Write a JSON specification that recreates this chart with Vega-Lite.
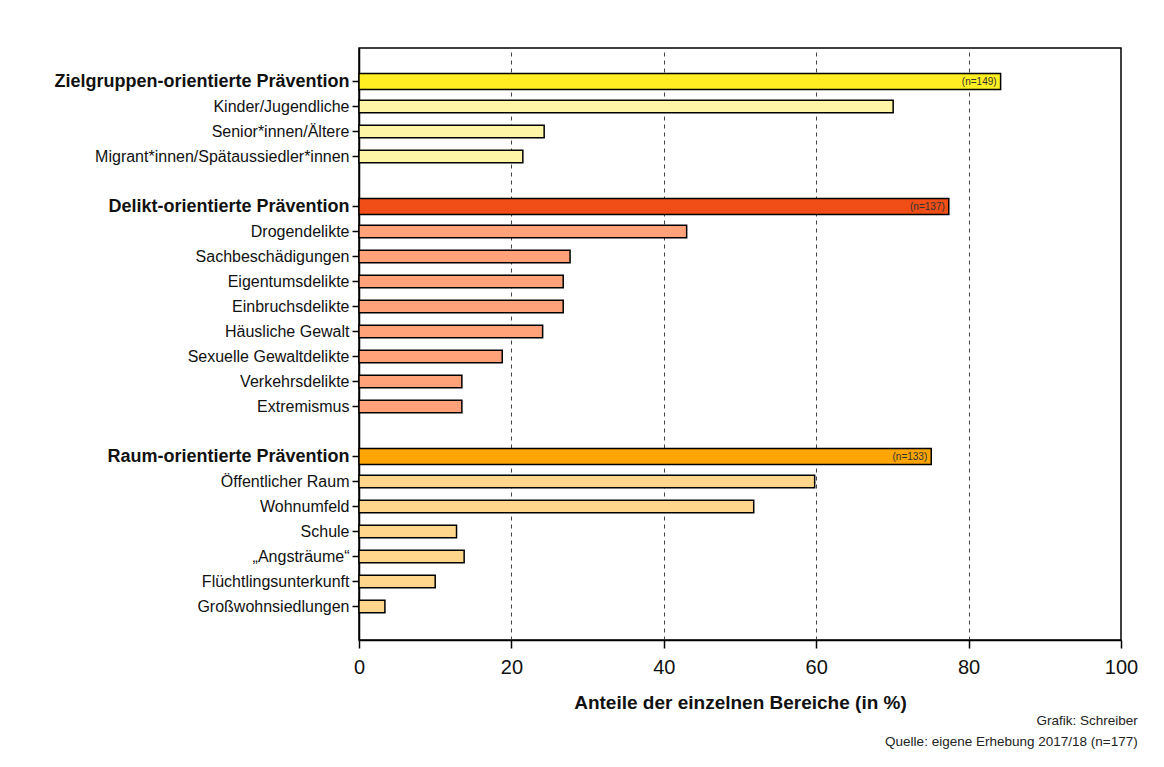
{
  "$schema": "https://vega.github.io/schema/vega-lite/v6.json",
  "width": 762,
  "height": 592,
  "autosize": {"type": "none"},
  "padding": {"left": 359, "top": 48, "right": 43, "bottom": 127},
  "background": "white",
  "config": {
    "view": {"stroke": "black", "strokeWidth": 1.5},
    "font": "Liberation Sans"
  },
  "title": {
    "text": ["Grafik: Schreiber", "Quelle: eigene Erhebung 2017/18 (n=177)"],
    "orient": "bottom",
    "anchor": "end",
    "align": "right",
    "fontSize": 13.5,
    "fontWeight": "normal",
    "color": "#222222",
    "lineHeight": 21,
    "offset": 2,
    "dx": 0
  },
  "data": {
    "values": [
      {"bereich": "Zielgruppen-orientierte Prävention", "anteil": 84.2, "typ": "Zielgruppen gesamt", "ebene": "gesamt", "nlabel": "(n=149)"},
      {"bereich": "Kinder/Jugendliche", "anteil": 70.1, "typ": "Zielgruppen einzeln", "ebene": "einzeln"},
      {"bereich": "Senior*innen/Ältere", "anteil": 24.3, "typ": "Zielgruppen einzeln", "ebene": "einzeln"},
      {"bereich": "Migrant*innen/Spätaussiedler*innen", "anteil": 21.5, "typ": "Zielgruppen einzeln", "ebene": "einzeln"},
      {"bereich": "Delikt-orientierte Prävention", "anteil": 77.4, "typ": "Delikt gesamt", "ebene": "gesamt", "nlabel": "(n=137)"},
      {"bereich": "Drogendelikte", "anteil": 43.0, "typ": "Delikt einzeln", "ebene": "einzeln"},
      {"bereich": "Sachbeschädigungen", "anteil": 27.7, "typ": "Delikt einzeln", "ebene": "einzeln"},
      {"bereich": "Eigentumsdelikte", "anteil": 26.8, "typ": "Delikt einzeln", "ebene": "einzeln"},
      {"bereich": "Einbruchsdelikte", "anteil": 26.8, "typ": "Delikt einzeln", "ebene": "einzeln"},
      {"bereich": "Häusliche Gewalt", "anteil": 24.1, "typ": "Delikt einzeln", "ebene": "einzeln"},
      {"bereich": "Sexuelle Gewaltdelikte", "anteil": 18.8, "typ": "Delikt einzeln", "ebene": "einzeln"},
      {"bereich": "Verkehrsdelikte", "anteil": 13.5, "typ": "Delikt einzeln", "ebene": "einzeln"},
      {"bereich": "Extremismus", "anteil": 13.5, "typ": "Delikt einzeln", "ebene": "einzeln"},
      {"bereich": "Raum-orientierte Prävention", "anteil": 75.1, "typ": "Raum gesamt", "ebene": "gesamt", "nlabel": "(n=133)"},
      {"bereich": "Öffentlicher Raum", "anteil": 59.8, "typ": "Raum einzeln", "ebene": "einzeln"},
      {"bereich": "Wohnumfeld", "anteil": 51.8, "typ": "Raum einzeln", "ebene": "einzeln"},
      {"bereich": "Schule", "anteil": 12.8, "typ": "Raum einzeln", "ebene": "einzeln"},
      {"bereich": "„Angsträume“", "anteil": 13.8, "typ": "Raum einzeln", "ebene": "einzeln"},
      {"bereich": "Flüchtlingsunterkunft", "anteil": 10.0, "typ": "Raum einzeln", "ebene": "einzeln"},
      {"bereich": "Großwohnsiedlungen", "anteil": 3.4, "typ": "Raum einzeln", "ebene": "einzeln"}
    ]
  },
  "encoding": {
    "y": {
      "field": "bereich",
      "type": "nominal",
      "scale": {
        "domain": [
          "Zielgruppen-orientierte Prävention", "Kinder/Jugendliche", "Senior*innen/Ältere", "Migrant*innen/Spätaussiedler*innen",
          " ",
          "Delikt-orientierte Prävention", "Drogendelikte", "Sachbeschädigungen", "Eigentumsdelikte", "Einbruchsdelikte", "Häusliche Gewalt", "Sexuelle Gewaltdelikte", "Verkehrsdelikte", "Extremismus",
          "  ",
          "Raum-orientierte Prävention", "Öffentlicher Raum", "Wohnumfeld", "Schule", "„Angsträume“", "Flüchtlingsunterkunft", "Großwohnsiedlungen"
        ],
        "paddingInner": 0,
        "paddingOuter": 0.84
      },
      "axis": {
        "title": null,
        "values": [
          "Zielgruppen-orientierte Prävention", "Kinder/Jugendliche", "Senior*innen/Ältere", "Migrant*innen/Spätaussiedler*innen",
          "Delikt-orientierte Prävention", "Drogendelikte", "Sachbeschädigungen", "Eigentumsdelikte", "Einbruchsdelikte", "Häusliche Gewalt", "Sexuelle Gewaltdelikte", "Verkehrsdelikte", "Extremismus",
          "Raum-orientierte Prävention", "Öffentlicher Raum", "Wohnumfeld", "Schule", "„Angsträume“", "Flüchtlingsunterkunft", "Großwohnsiedlungen"
        ],
        "domainColor": "black",
        "domainWidth": 1.5,
        "tickColor": "black",
        "tickWidth": 1.5,
        "tickSize": 7,
        "labelPadding": 3,
        "labelColor": "#111111",
        "labelLimit": 400,
        "labelFontSize": {"condition": {"test": "indexof(datum.value, 'Prävention') >= 0", "value": 18}, "value": 16},
        "labelFontWeight": {"condition": {"test": "indexof(datum.value, 'Prävention') >= 0", "value": "bold"}, "value": "normal"}
      }
    },
    "x": {
      "field": "anteil",
      "type": "quantitative",
      "scale": {"domain": [0, 100], "nice": false},
      "axis": {
        "values": [0, 20, 40, 60, 80, 100],
        "grid": true,
        "gridDash": [4, 4],
        "gridColor": "#444444",
        "gridWidth": 1,
        "domainColor": "black",
        "domainWidth": 1.5,
        "tickColor": "black",
        "tickWidth": 1.5,
        "tickSize": 8,
        "labelFlush": false,
        "labelOverlap": false,
        "labelFontSize": 20,
        "labelColor": "#111111",
        "labelPadding": 9,
        "title": "Anteile der einzelnen Bereiche (in %)",
        "titleFontSize": 19,
        "titleFontWeight": "bold",
        "titleColor": "#111111",
        "titlePadding": 16
      }
    }
  },
  "layer": [
    {
      "mark": {"type": "bar", "stroke": "black", "strokeWidth": 1.5},
      "encoding": {
        "color": {
          "field": "typ",
          "type": "nominal",
          "scale": {
            "domain": ["Zielgruppen gesamt", "Zielgruppen einzeln", "Delikt gesamt", "Delikt einzeln", "Raum gesamt", "Raum einzeln"],
            "range": ["#FFEE22", "#FFF5A6", "#F04E16", "#FFA27A", "#FFA502", "#FFD68C"]
          },
          "legend": null
        },
        "size": {
          "field": "ebene",
          "type": "ordinal",
          "scale": {"domain": ["gesamt", "einzeln"], "range": [16, 12.5]},
          "legend": null
        }
      }
    },
    {
      "transform": [{"filter": "datum.ebene == 'gesamt'"}],
      "mark": {"type": "text", "align": "right", "dx": -4, "fontSize": 10, "color": "#333333"},
      "encoding": {
        "text": {"field": "nlabel"}
      }
    }
  ]
}
